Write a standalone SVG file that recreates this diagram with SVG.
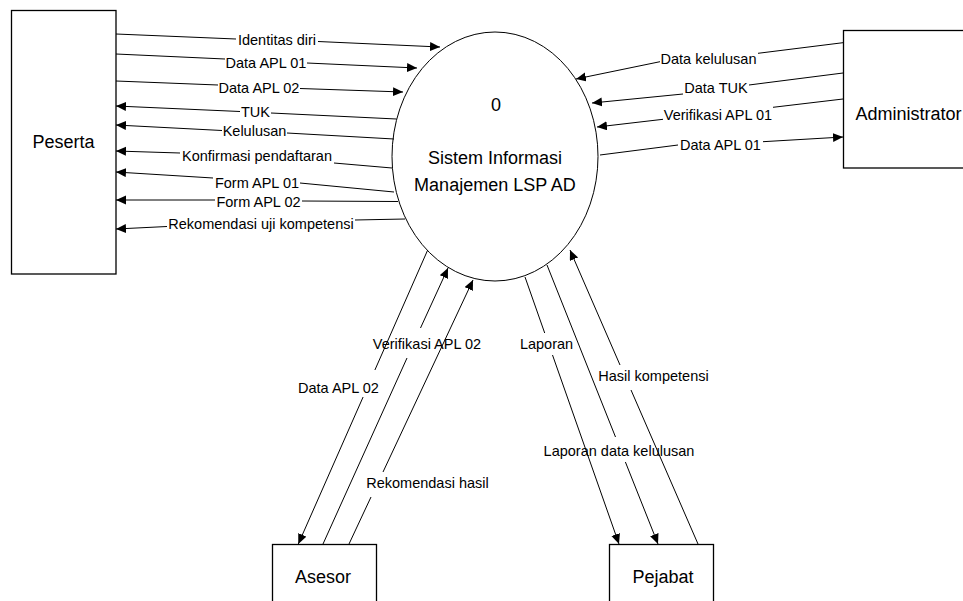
<svg xmlns="http://www.w3.org/2000/svg" width="963" height="601" viewBox="0 0 963 601">
  <style>
    .box { fill: #ffffff; stroke: #000000; stroke-width: 1.3; }
    .proc { fill: #ffffff; stroke: #000000; stroke-width: 1; }
    .flow { fill: none; stroke: #000000; stroke-width: 1; }
    .lbl { font-family: "Liberation Sans", Arial, sans-serif; font-size: 14.5px; fill: #000000; text-anchor: middle; }
    .name { font-family: "Liberation Sans", Arial, sans-serif; font-size: 18px; fill: #000000; text-anchor: middle; }
  </style>
  <defs>
    <marker id="arrow" markerUnits="userSpaceOnUse" markerWidth="11" markerHeight="10" refX="10" refY="4.5" orient="auto">
      <path d="M0,0 L10,4.5 L0,9 Z" fill="#000000"/>
    </marker>
  </defs>
  <rect width="963" height="601" fill="#ffffff"/>

  <!-- external entities and the process -->
  <g id="peserta">
    <rect class="box" x="11.5" y="10.5" width="104.5" height="263.5"/>
    <text class="name" x="63.5" y="148">Peserta</text>
  </g>
  <g id="administrator">
    <rect class="box" x="843.5" y="30.5" width="135" height="137.5"/>
    <text class="name" x="908.5" y="120">Administrator</text>
  </g>
  <g id="asesor">
    <rect class="box" x="272.5" y="544.5" width="104" height="70"/>
    <text class="name" x="323" y="583">Asesor</text>
  </g>
  <g id="pejabat">
    <rect class="box" x="609.5" y="544.5" width="104" height="70"/>
    <text class="name" x="663" y="583">Pejabat</text>
  </g>
  <g id="sistem">
    <ellipse class="proc" cx="495" cy="156.5" rx="103" ry="124.5"/>
    <text class="name" x="496" y="110.5">0</text>
    <text class="name" x="495" y="164">Sistem Informasi</text>
    <text class="name" x="495" y="190.5">Manajemen LSP AD</text>
  </g>

  <!-- data flows -->
  <g id="flows">
    <!-- Peserta -> Sistem -->
    <path class="flow" d="M116,34 L236,39"/>
    <path class="flow" d="M318,41.5 L440,47" marker-end="url(#arrow)"/>
    <text class="lbl" x="277" y="45">Identitas diri</text>

    <path class="flow" d="M116,54 L225,59"/>
    <path class="flow" d="M307,63 L417,68" marker-end="url(#arrow)"/>
    <text class="lbl" x="266" y="67.5">Data APL 01</text>

    <path class="flow" d="M116,81 L218,85"/>
    <path class="flow" d="M300,88.5 L403,92" marker-end="url(#arrow)"/>
    <text class="lbl" x="259" y="93">Data APL 02</text>

    <!-- Sistem -> Peserta -->
    <path class="flow" d="M396.5,119 L271,113"/>
    <path class="flow" d="M240,111.5 L116,106" marker-end="url(#arrow)"/>
    <text class="lbl" x="255.5" y="116.5">TUK</text>

    <path class="flow" d="M394,139 L287,133"/>
    <path class="flow" d="M222,130.5 L116,125" marker-end="url(#arrow)"/>
    <text class="lbl" x="254.5" y="135.5">Kelulusan</text>

    <path class="flow" d="M392,168 L334,163"/>
    <path class="flow" d="M180,153 L116,151" marker-end="url(#arrow)"/>
    <text class="lbl" x="257" y="161">Konfirmasi pendaftaran</text>

    <path class="flow" d="M394,192 L300,183"/>
    <path class="flow" d="M213,178 L116,172" marker-end="url(#arrow)"/>
    <text class="lbl" x="257" y="188">Form APL 01</text>

    <path class="flow" d="M398,201.5 L302,201"/>
    <path class="flow" d="M215,200 L116,200" marker-end="url(#arrow)"/>
    <text class="lbl" x="258.5" y="207">Form APL 02</text>

    <path class="flow" d="M405,219 L355,220"/>
    <path class="flow" d="M167,226.5 L116,229" marker-end="url(#arrow)"/>
    <text class="lbl" x="261" y="228.5">Rekomendasi uji kompetensi</text>

    <!-- Administrator <-> Sistem -->
    <path class="flow" d="M843,42.7 L758,53.3"/>
    <path class="flow" d="M660,61.7 L576,79" marker-end="url(#arrow)"/>
    <text class="lbl" x="708.5" y="64">Data kelulusan</text>

    <path class="flow" d="M843,73 L749,85"/>
    <path class="flow" d="M683,94 L592,103" marker-end="url(#arrow)"/>
    <text class="lbl" x="716" y="93">Data TUK</text>

    <path class="flow" d="M843,99 L773,107.3"/>
    <path class="flow" d="M663,119.3 L597,127" marker-end="url(#arrow)"/>
    <text class="lbl" x="718" y="120">Verifikasi APL 01</text>

    <path class="flow" d="M600,155 L678,145"/>
    <path class="flow" d="M763,141.7 L843,137" marker-end="url(#arrow)"/>
    <text class="lbl" x="720.5" y="150">Data APL 01</text>

    <!-- Sistem <-> Asesor -->
    <path class="flow" d="M427.7,250 L374.9,370"/>
    <path class="flow" d="M363.1,397 L298.3,544" marker-end="url(#arrow)"/>
    <text class="lbl" x="338.5" y="393">Data APL 02</text>

    <path class="flow" d="M323,544 L407,358"/>
    <path class="flow" d="M420.5,328 L448,268" marker-end="url(#arrow)"/>
    <text class="lbl" x="427" y="349">Verifikasi APL 02</text>

    <path class="flow" d="M349,544 L371,497"/>
    <path class="flow" d="M383,472 L473,280" marker-end="url(#arrow)"/>
    <text class="lbl" x="427.5" y="488">Rekomendasi hasil</text>

    <!-- Sistem <-> Pejabat -->
    <path class="flow" d="M525,277 L544.7,333"/>
    <path class="flow" d="M552.5,355 L619,544" marker-end="url(#arrow)"/>
    <text class="lbl" x="546.5" y="349">Laporan</text>

    <path class="flow" d="M547,265 L615.5,437"/>
    <path class="flow" d="M625.4,462 L658,544" marker-end="url(#arrow)"/>
    <text class="lbl" x="619" y="456">Laporan data kelulusan</text>

    <path class="flow" d="M698,544 L631,390"/>
    <path class="flow" d="M620,365 L570,250" marker-end="url(#arrow)"/>
    <text class="lbl" x="653.5" y="381">Hasil kompetensi</text>
  </g>
</svg>
